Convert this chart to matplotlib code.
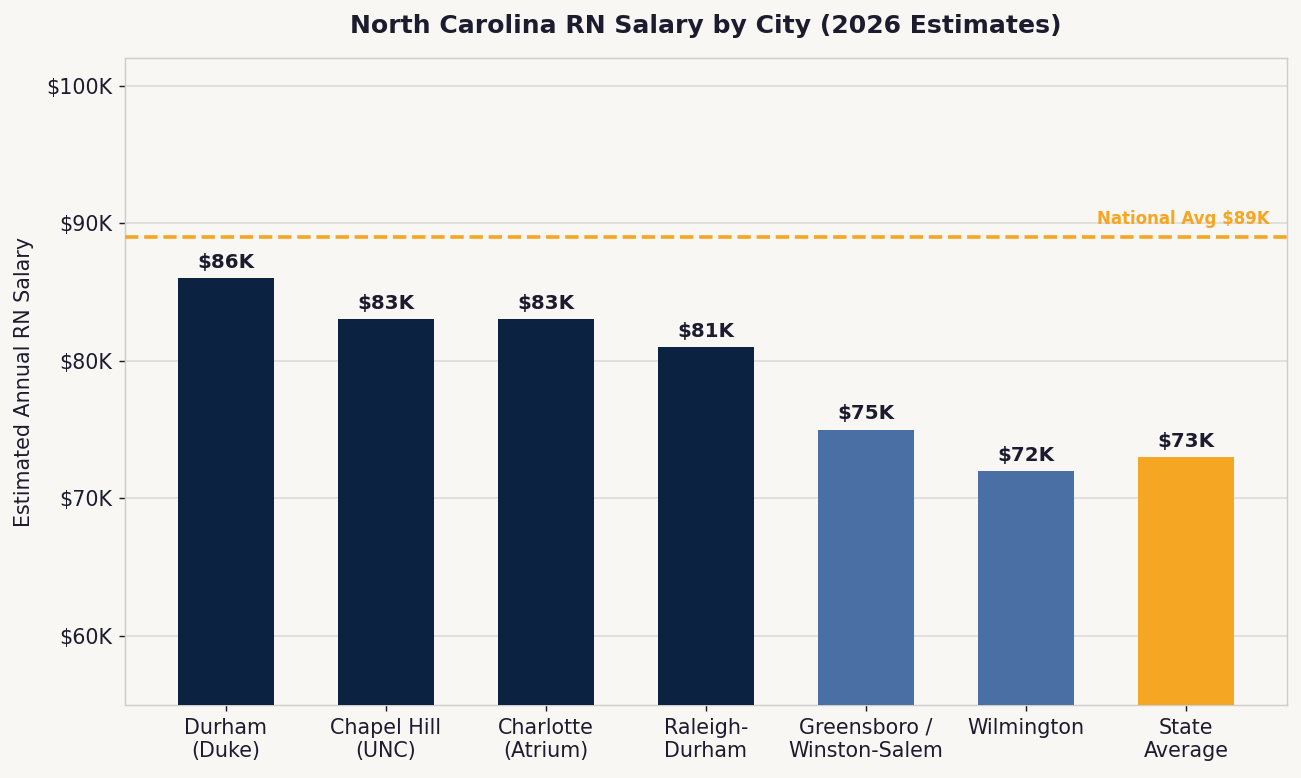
import matplotlib.pyplot as plt
from matplotlib.ticker import FuncFormatter

# data
cities = ["Durham\n(Duke)", "Chapel Hill\n(UNC)", "Charlotte\n(Atrium)", "Raleigh-\nDurham",
          "Greensboro /\nWinston-Salem", "Wilmington", "State\nAverage"]
salaries = [86000, 83000, 83000, 81000, 75000, 72000, 73000]
national_avg = 89000

navy = "#0B2341"
steel = "#4A6FA5"
orange = "#F5A623"
bg = "#F8F7F4"
ink = "#1C1C2E"
colors = [navy, navy, navy, navy, steel, steel, orange]

fig = plt.figure(figsize=(10.015, 5.985), dpi=130, facecolor=bg)
ax = fig.add_axes([0.096, 0.094, 0.8925, 0.8314], facecolor=bg)

bars = ax.bar(range(len(cities)), salaries, width=0.6, color=colors, zorder=3)
for b, v in zip(bars, salaries):
    ax.annotate(f"${v // 1000}K", (b.get_x() + b.get_width() / 2, v),
                xytext=(0, 3.5), textcoords="offset points",
                ha="center", va="bottom", fontsize=11, fontweight="bold", color=ink)

ax.axhline(national_avg, color=orange, linestyle="--", linewidth=2, zorder=4)
ax.text(6.52, national_avg + 650, "National Avg $89K", color=orange,
        fontsize=9.2, fontweight="bold", ha="right", va="bottom")

ax.set_ylim(55000, 102000)
ax.set_xticks(range(len(cities)))
ax.set_xticklabels(cities, fontsize=11.4, color=ink)
ax.set_yticks([60000, 70000, 80000, 90000, 100000])
ax.yaxis.set_major_formatter(FuncFormatter(lambda v, p: f"${int(v / 1000)}K"))
ax.tick_params(axis="y", labelsize=11.4, colors=ink)
ax.tick_params(axis="x", colors=ink)
ax.set_ylabel("Estimated Annual RN Salary", fontsize=11.4, color=ink, labelpad=7)
ax.set_title("North Carolina RN Salary by City (2026 Estimates)",
             fontsize=13.9, fontweight="bold", color=ink, pad=14)
ax.grid(axis="y", color="#E0DEDA", linewidth=1, zorder=0)
for s in ax.spines.values():
    s.set_color("#D0CECA")

fig.savefig("out.png", facecolor=bg)
